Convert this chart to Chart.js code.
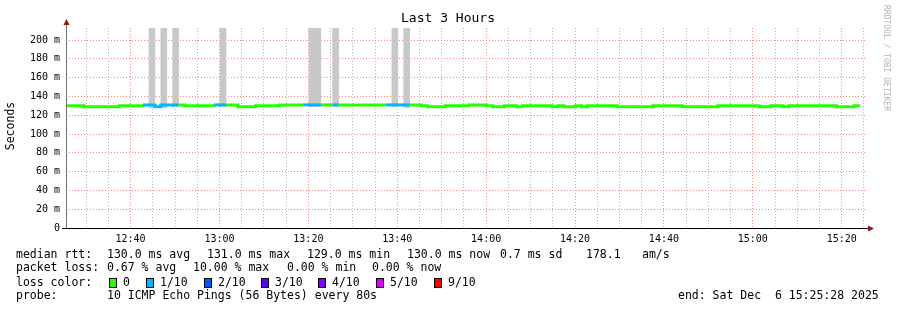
<!DOCTYPE html>
<html>
<head>
<meta charset="utf-8">
<script src="https://cdn.jsdelivr.net/npm/chart.js"></script>
<style>
  html, body { margin: 0; padding: 0; background: #fff; }
  #wrap { width: 897px; height: 310px; }
</style>
</head>
<body>
<div id="wrap"><canvas id="chart-canvas" width="897" height="310"></canvas></div>
<script>
// graph window: 3 hours ending 15:25:28, one rrd step = 80 s
const startClock = 12 * 60 + 25 + 28 / 60;   // minutes of day
const spanMinutes = 180;
const stepMinutes = 80 / 60;

// median rtt (ms) as runs of steps, with the loss count (of 10) for each run
const runSteps = [3, 6, 4, 2, 1, 3, 1, 5, 2, 2, 3, 4,
                  4, 3, 2, 1, 8, 4, 2, 1, 3, 4,
                  3, 1, 2, 2, 1, 5, 1, 1, 2, 1, 1, 5, 6, 5,
                  6, 7, 2, 2, 1, 8, 3, 1];
const runRtt = [130, 129, 130, 131, 129, 131, 131, 130, 131, 131, 129, 130,
                131, 131, 131, 131, 131, 131, 131, 130, 129, 130,
                131, 130, 129, 130, 129, 130, 129, 130, 129, 130, 129, 130, 129, 130,
                129, 130, 129, 130, 129, 130, 129, 130];
const runLoss = [0, 0, 0, 1, 1, 1, 0, 0, 1, 0, 0, 0,
                 0, 1, 0, 1, 0, 1, 0, 0, 0, 0,
                 0, 0, 0, 0, 0, 0, 0, 0, 0, 0, 0, 0, 0, 0,
                 0, 0, 0, 0, 0, 0, 0, 0];

// smoke (spread of single pings) where it shows above the median
const smokeStep = [14, 16, 18, 26, 41, 42, 45, 55, 57];
const smokeLow = [128, 128, 129, 129, 129, 129, 129, 129, 128];
const smokeHigh = [260, 260, 260, 260, 260, 260, 260, 260, 260];

// axes
const yMax = 212.8;
const yTickValues = [0, 10, 20, 30, 40, 50, 60, 70, 80, 90, 100, 110, 120, 130, 140, 150, 160, 170, 180, 190, 200, 210];
const xLabelTimes = ["12:40", "13:00", "13:20", "13:40", "14:00", "14:20", "14:40", "15:00", "15:20"];
const xGridTimes = ["12:30", "12:35", "12:40", "12:45", "12:50", "12:55", "13:00", "13:05", "13:10", "13:15",
                    "13:20", "13:25", "13:30", "13:35", "13:40", "13:45", "13:50", "13:55", "14:00", "14:05",
                    "14:10", "14:15", "14:20", "14:25", "14:30", "14:35", "14:40", "14:45", "14:50", "14:55",
                    "15:00", "15:05", "15:10", "15:15", "15:20", "15:25"];

// legend texts
const lossColors = ["#26ff00", "#00b8ff", "#0059ff", "#5e00ff", "#7e00ff", "#dd00ff", "#ff0000"];
const lossLabels = ["0", "1/10", "2/10", "3/10", "4/10", "5/10", "9/10"];
const rttStats = ["130.0 ms avg", "131.0 ms max", "129.0 ms min", "130.0 ms now", "0.7 ms sd", "178.1", "am/s"];
const lossStats = ["0.67 % avg", "10.00 % max", "0.00 % min", "0.00 % now"];
const probeText = "10 ICMP Echo Pings (56 Bytes) every 80s";
const endText = "end: Sat Dec  6 15:25:28 2025";

function clockToX(s) {
    const p = s.split(":");
    return Number(p[0]) * 60 + Number(p[1]) - startClock;
}

// expand the runs into step points
const medianPoints = [];
const pointLoss = [];
let k = 0;
runSteps.forEach((n, i) => {
    for (let j = 0; j < n; j++) {
        medianPoints.push({ x: k * stepMinutes, y: runRtt[i] });
        pointLoss.push(runLoss[i]);
        k++;
    }
});
medianPoints.push({ x: k * stepMinutes, y: runRtt[runRtt.length - 1] });
pointLoss.push(runLoss[runLoss.length - 1]);

const smokePoints = smokeStep.map((s, i) => ({ x: (s + 0.5) * stepMinutes, y: [smokeLow[i], smokeHigh[i]] }));

const MONO = '"DejaVu Sans Mono", monospace';

const rrdDecor = {
    id: "rrdDecor",
    beforeDraw(chart) {
        const ctx = chart.ctx;
        ctx.save();
        ctx.fillStyle = "#ffffff";
        ctx.fillRect(0, 0, chart.width, chart.height);
        ctx.restore();
    },
    afterDraw(chart) {
        const ctx = chart.ctx;
        const a = chart.chartArea;
        ctx.save();

        // axes
        ctx.lineWidth = 1;
        ctx.strokeStyle = "#707070";
        ctx.beginPath();
        ctx.moveTo(a.left + 0.5, a.top - 6);
        ctx.lineTo(a.left + 0.5, a.bottom);
        ctx.stroke();
        ctx.strokeStyle = "#000000";
        ctx.beginPath();
        ctx.moveTo(a.left - 4, a.bottom + 0.5);
        ctx.lineTo(a.right + 3, a.bottom + 0.5);
        ctx.stroke();
        ctx.fillStyle = "#8b1a1a";
        ctx.beginPath();
        ctx.moveTo(a.left + 0.5, a.top - 9);
        ctx.lineTo(a.left - 2.5, a.top - 3);
        ctx.lineTo(a.left + 3.5, a.top - 3);
        ctx.closePath();
        ctx.fill();
        ctx.beginPath();
        ctx.moveTo(a.right + 8, a.bottom + 0.5);
        ctx.lineTo(a.right + 2, a.bottom - 2.5);
        ctx.lineTo(a.right + 2, a.bottom + 3.5);
        ctx.closePath();
        ctx.fill();

        // title and axis label
        ctx.fillStyle = "#000000";
        ctx.font = "13px " + MONO;
        ctx.textAlign = "center";
        ctx.textBaseline = "middle";
        ctx.fillText("Last 3 Hours", 448, 19);
        ctx.save();
        ctx.translate(11, 126);
        ctx.rotate(-Math.PI / 2);
        ctx.font = "11.5px " + MONO;
        ctx.fillText("Seconds", 0, 0);
        ctx.restore();

        // watermark
        ctx.save();
        ctx.translate(886, 5);
        ctx.rotate(Math.PI / 2);
        ctx.font = "8px " + MONO;
        ctx.fillStyle = "#b4b4b4";
        ctx.textAlign = "left";
        ctx.fillText("RRDTOOL / TOBI OETIKER", 0, 0);
        ctx.restore();

        // legend
        ctx.font = "11.5px " + MONO;
        ctx.textAlign = "left";
        ctx.fillStyle = "#000000";
        const rows = [255, 268, 283, 296];
        ctx.fillText("median rtt:", 16, rows[0]);
        [107, 207, 307, 407, 500, 586, 642].forEach((x, i) => ctx.fillText(rttStats[i], x, rows[0]));
        ctx.fillText("packet loss:", 16, rows[1]);
        [107, 193, 287, 372].forEach((x, i) => ctx.fillText(lossStats[i], x, rows[1]));
        ctx.fillText("loss color:", 16, rows[2]);
        [109, 146, 204, 261, 318, 376, 434].forEach((x, i) => {
            ctx.fillStyle = lossColors[i];
            ctx.fillRect(x, rows[2] - 4, 7, 8);
            ctx.strokeStyle = "#000000";
            ctx.strokeRect(x + 0.5, rows[2] - 4.5, 7, 9);
            ctx.fillStyle = "#000000";
            ctx.fillText(lossLabels[i], x + 14, rows[2]);
        });
        ctx.fillText("probe:", 16, rows[3]);
        ctx.fillText(probeText, 107, rows[3]);
        ctx.fillText(endText, 678, rows[3]);

        ctx.restore();
    }
};

const ctx = document.getElementById("chart-canvas").getContext("2d");
new Chart(ctx, {
    type: "line",
    data: {
        datasets: [{
            type: "line",
            data: medianPoints,
            stepped: true,
            borderWidth: 3,
            borderCapStyle: "butt",
            pointRadius: 0,
            fill: false,
            order: 1,
            borderColor: lossColors[0],
            segment: {
                borderColor: c => lossColors[pointLoss[c.p0DataIndex]]
            }
        }, {
            type: "bar",
            data: smokePoints,
            backgroundColor: "#c8c8c8",
            borderWidth: 0,
            barThickness: 6,
            grouped: false,
            order: 2
        }]
    },
    options: {
        responsive: false,
        animation: false,
        devicePixelRatio: 1,
        layout: { padding: { top: 28, right: 31, left: 0, bottom: 0 } },
        plugins: { legend: { display: false }, tooltip: { enabled: false } },
        scales: {
            x: {
                type: "linear",
                min: 0,
                max: spanMinutes,
                offset: false,
                afterFit: s => { s.height = 82; },
                afterBuildTicks: s => { s.ticks = xGridTimes.map(t => ({ value: clockToX(t) })); },
                border: { display: false, dash: [1, 2] },
                grid: {
                    drawTicks: false,
                    offset: false,
                    color: c => {
                        const v = c.tick ? c.tick.value : 0;
                        return xLabelTimes.some(t => Math.abs(clockToX(t) - v) < 0.01) ? "rgba(255,120,120,0.9)" : "rgba(175,175,175,0.9)";
                    }
                },
                ticks: {
                    autoSkip: false,
                    maxRotation: 0,
                    padding: 5,
                    color: "#000000",
                    font: { family: "DejaVu Sans Mono", size: 10 },
                    callback: v => {
                        const hit = xLabelTimes.find(t => Math.abs(clockToX(t) - v) < 0.01);
                        return hit || "";
                    }
                }
            },
            y: {
                min: 0,
                max: yMax,
                afterFit: s => { s.width = 66; },
                afterBuildTicks: s => { s.ticks = yTickValues.map(v => ({ value: v })); },
                border: { display: false, dash: [1, 2] },
                grid: {
                    drawTicks: false,
                    color: c => (c.tick && c.tick.value % 20 === 0) ? "rgba(255,120,120,0.9)" : "rgba(175,175,175,0.9)"
                },
                ticks: {
                    padding: 6,
                    color: "#000000",
                    font: { family: "DejaVu Sans Mono", size: 10 },
                    callback: v => v === 0 ? "0" : (v % 20 === 0 ? v + " m" : "")
                }
            }
        }
    },
    plugins: [rrdDecor]
});
</script>
</body>
</html>
